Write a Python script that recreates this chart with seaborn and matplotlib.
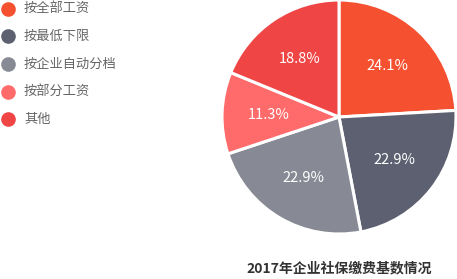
import matplotlib
matplotlib.use("Agg")
import matplotlib.pyplot as plt
from matplotlib.lines import Line2D
import seaborn as sns

categories = ["按全部工资", "按最低下限", "按企业自动分档", "按部分工资", "其他"]
values = [24.1, 22.9, 22.9, 11.3, 18.8]
colors = ["#F5502F", "#5C6070", "#878A94", "#FF6B6B", "#F04545"]
title = "2017年企业社保缴费基数情况"

sns.set_theme(style="white")
plt.rcParams['font.family'] = ['Noto Sans CJK SC', 'DejaVu Sans']

W, H = 457, 279
fig = plt.figure(figsize=(W / 100, H / 100), dpi=100)
ax = fig.add_axes([0.4858, 0.1613, 0.512, 0.8387])
wedges, texts, autotexts = ax.pie(
    values, colors=colors, startangle=90, counterclock=False,
    autopct="%.1f%%", pctdistance=0.6,
    wedgeprops=dict(edgecolor="white", linewidth=2.2),
    textprops=dict(color="white", fontsize=10.5),
)
ax.set_aspect("equal")
ax.set_xlim(-1.0, 1.0)
ax.set_ylim(-1.0, 1.0)

# legend drawn at fixed rows
for i, (lab, c) in enumerate(zip(categories, colors)):
    y = 1 - (8.5 + 27.7 * i) / H
    fig.add_artist(Line2D([8 / W], [y], marker="o", linestyle="", markersize=9.5,
                          markerfacecolor=c, markeredgecolor=c,
                          transform=fig.transFigure))
    fig.text(24 / W, y, lab, ha="left", va="center", fontsize=9.5, color="#666666")

fig.text(339 / W, 1 - 268 / H, title, ha="center", va="center",
         fontsize=10, fontweight="bold", color="#333333")

fig.savefig("out.png", dpi=100)
